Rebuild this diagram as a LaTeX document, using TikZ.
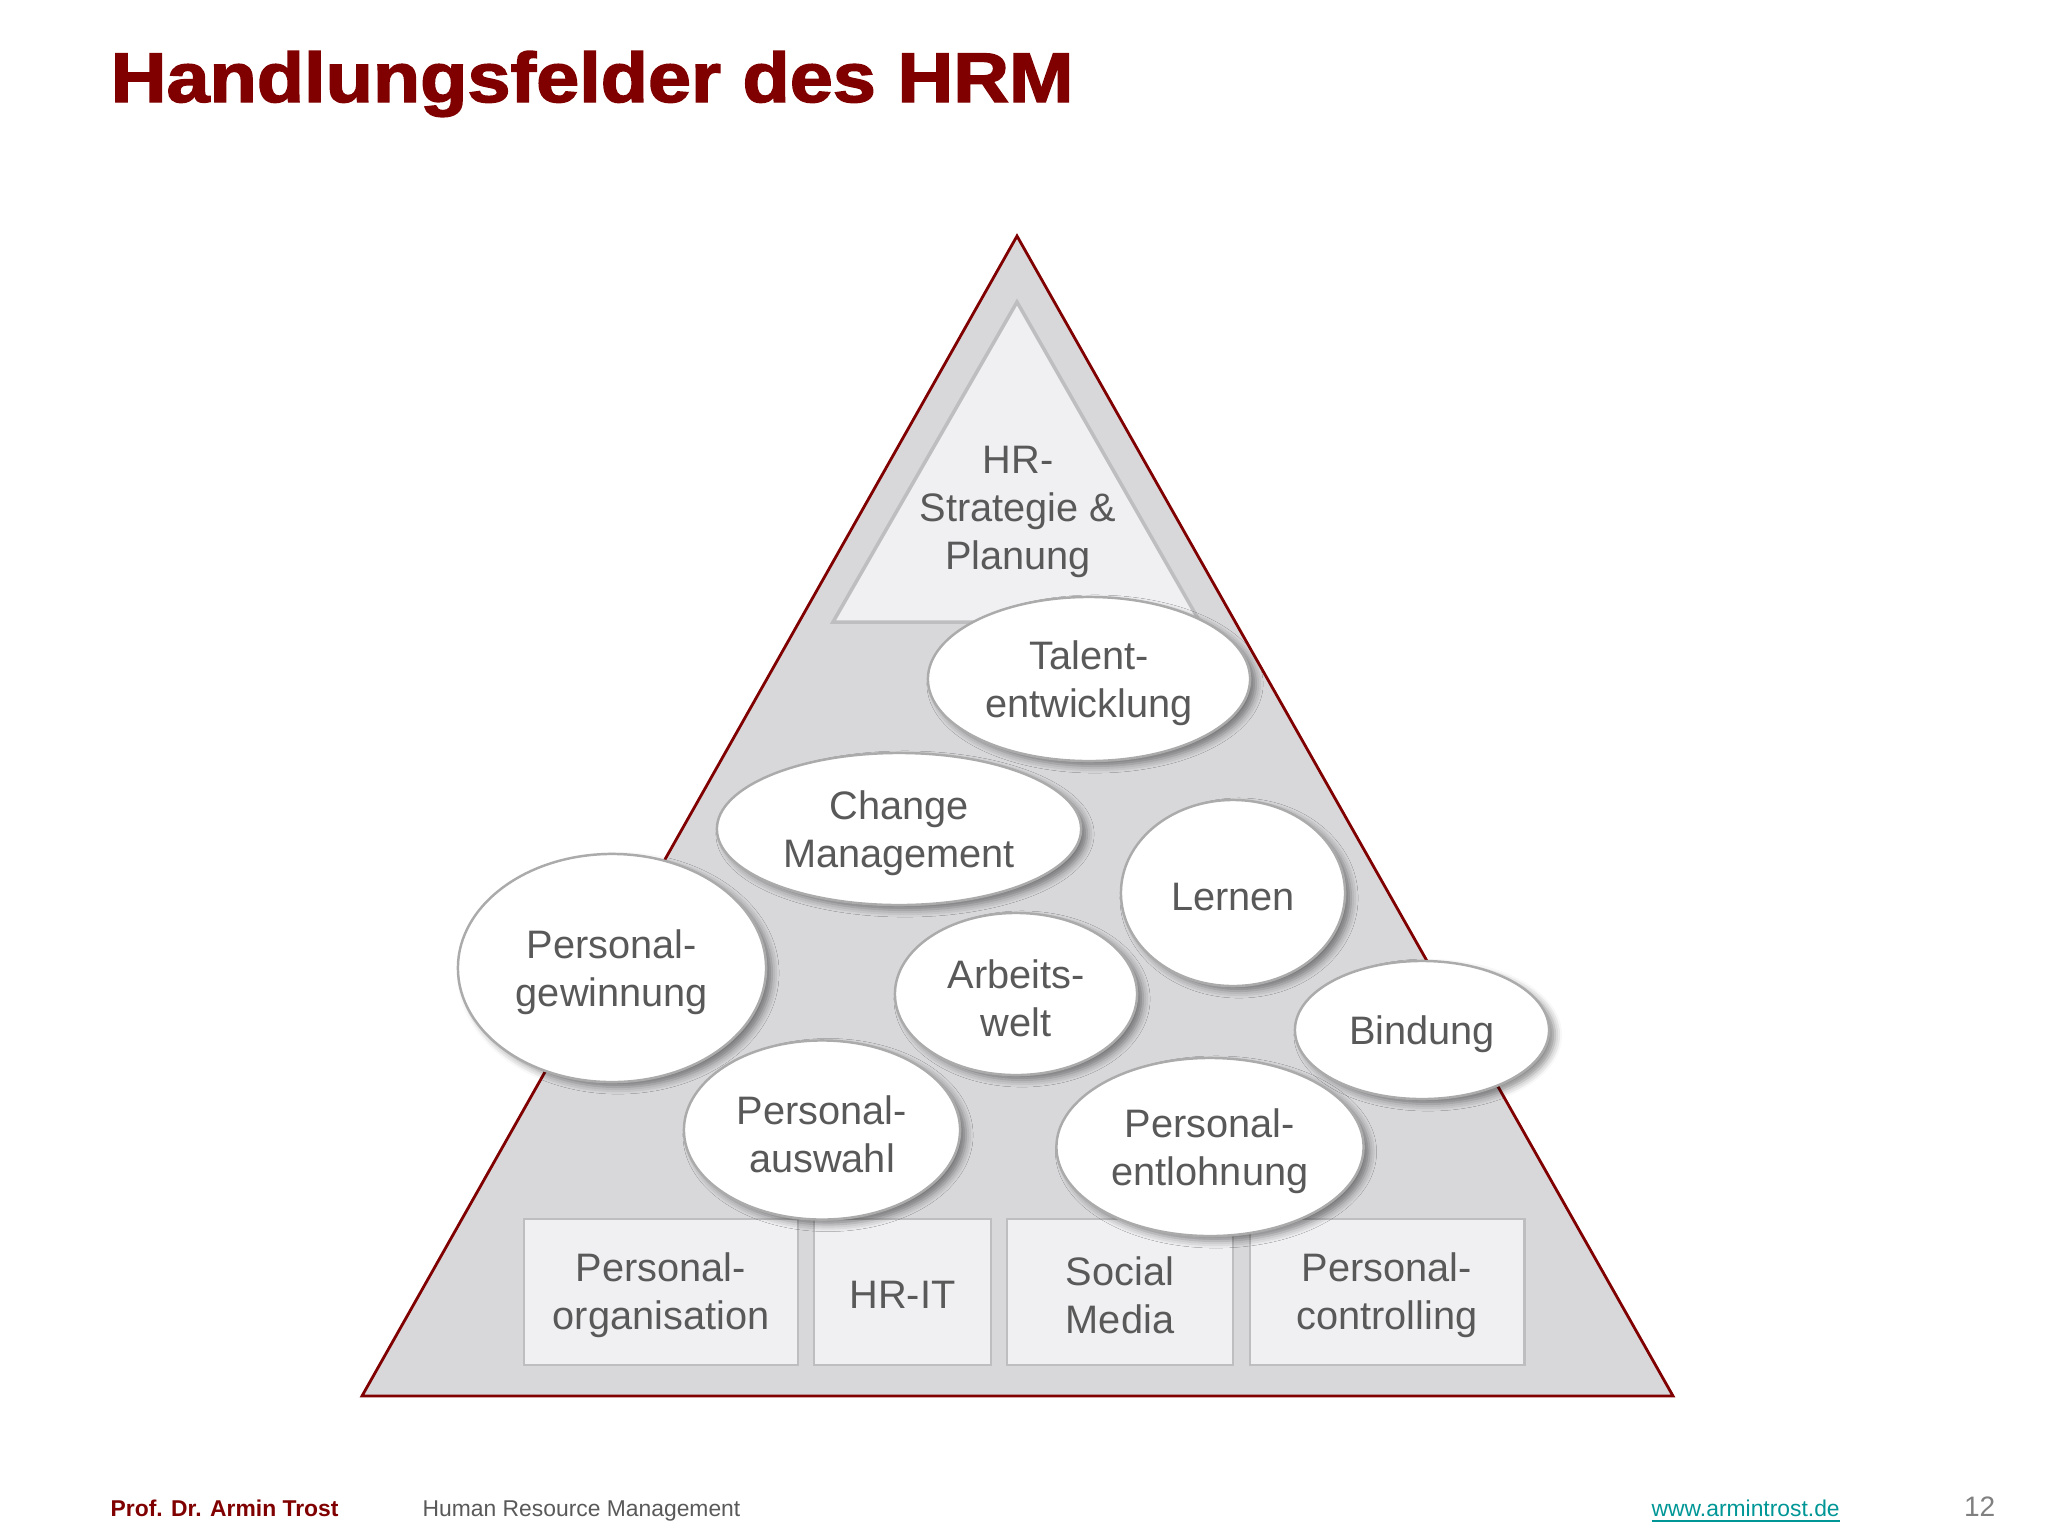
\documentclass[tikz,border=0pt]{standalone}
\usepackage{fontspec}
\setmainfont{Liberation Sans}
\newfontfamily\titelfont{Liberation Sans}[BoldFeatures={FakeBold=2}]
\usepackage{tikz}
\usetikzlibrary{calc}
\usetikzlibrary{shapes.geometric}
\usetikzlibrary{shadows.blur}
\definecolor{hrmrot}{RGB}{128,0,0}
\definecolor{hrmgrau}{RGB}{89,89,89}
\definecolor{pyramide}{RGB}{216,216,219}
\definecolor{spitze}{RGB}{240,239,242}
\definecolor{rand}{RGB}{190,190,192}
\definecolor{weblink}{RGB}{0,150,150}
\tikzset{feld/.style={ellipse,draw=black!33,line width=0.7pt,fill=white,inner sep=0pt,blur shadow={shadow xshift=0.06cm,shadow yshift=-0.05cm,shadow blur radius=0.07cm,shadow opacity=45}}}
\tikzset{kasten/.style={rectangle,draw=rand,line width=0.8pt,fill=spitze,inner sep=0pt,minimum height=1.46cm}}
\tikzset{beschriftung/.style={text=hrmgrau,align=center,font=\fontsize{11.3}{13.6}\selectfont}}
\tikzset{fuss/.style={anchor=base west,inner sep=0pt,font=\fontsize{6.5}{8}\selectfont}}

\begin{document}
\begin{tikzpicture}[x=0.01cm,y=-0.01cm]
\useasboundingbox (0,0) rectangle (2048,1536);
\node[anchor=base west,inner sep=0pt,text=hrmrot,font=\titelfont\fontsize{20}{24}\selectfont\bfseries] (titel) at (110,102) {\scalebox{1.1}[1]{Handlungsfelder des HRM}};

% Pyramide
\draw[hrmrot,line width=0.8pt,fill=pyramide] (1017,236) -- (1673,1396) -- (362,1396) -- cycle;
\draw[rand,line width=1pt,fill=spitze] (1017,302) -- (1200,622) -- (833,622) -- cycle;
\node[beschriftung] (strategie) at (1018,512) {HR-\\Strategie \&\\Planung};

\foreach \i/\x/\w/\t in {1/661/2.74/{Personal-\\organisation},2/902.5/1.77/{HR-IT},3/1120/2.26/{Social\\Media},4/1387/2.74/{Personal-\\controlling}} {
	\node[kasten,minimum width=\w cm] (K\i) at (\x,1292) {};
	\node[beschriftung] (K\i-t) at ($(K\i)+(0,3)$) {\t};
}

\foreach \n/\x/\y/\w/\h/\t in {talent/1089/679/3.22/1.64/{Talent-\\entwicklung},
	change/899/829/3.64/1.52/{Change\\Management},
	lernen/1233/893/2.24/1.86/{Lernen},
	gewinnung/612/968/3.08/2.28/{Personal-\\gewinnung},
	arbeitswelt/1016/994/2.42/1.62/{Arbeits-\\welt},
	bindung/1422/1030/2.54/1.38/{Bindung},
	auswahl/822/1130/2.76/1.79/{Personal-\\auswahl},
	entlohnung/1210/1147/3.07/1.78/{Personal-\\entlohnung}} {
	\node[feld,minimum width=\w cm,minimum height=\h cm] (\n) at (\x,\y) {};
	\node[beschriftung] (\n-t) at ($(\n)+(0,4)$) {\t};
}

% Fusszeile
\node[fuss,text=hrmrot,font=\fontsize{6.5}{8}\selectfont\bfseries] (autor) at (110,1516) {Prof. Dr. Armin Trost};
\node[fuss,text=hrmgrau] (kurs) at (422,1516) {Human Resource Management};
\node[fuss,text=weblink] (web) at (1651,1516) {\underline{www.armintrost.de}};
\node[fuss,anchor=base east,text=black!50,font=\fontsize{8}{10}\selectfont] (seite) at (1996,1516) {12};
\end{tikzpicture}
\end{document}
